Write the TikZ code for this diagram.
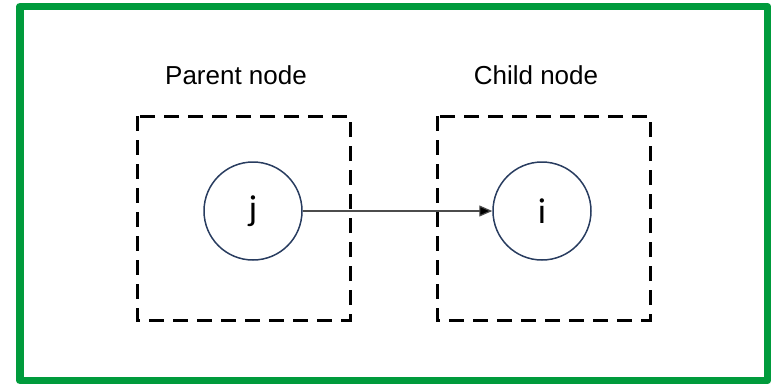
\documentclass[tikz,border=0pt]{standalone}
\usepackage{fontspec}
\setmainfont{Liberation Sans}
\newfontfamily\letterfont{Carlito}
\usetikzlibrary{arrows.meta}
\definecolor{framegreen}{RGB}{0,155,60}
\definecolor{circleblue}{RGB}{40,60,95}
\begin{document}
\begin{tikzpicture}[x=1pt,y=-1pt,
  groupbox/.style={draw=black,line width=3pt,dash pattern=on 15pt off 9pt},
  varnode/.style={circle,draw=circleblue,line width=1.5pt,minimum size=98pt,inner sep=0pt,font=\letterfont\fontsize{36}{40}\selectfont},
  caption/.style={font=\fontsize{26}{30}\selectfont},
  link/.style={draw=black!70,line width=1.2pt,-{Triangle[length=13pt,width=11pt,fill=black]}}]
  \useasboundingbox (0,0) rectangle (771,384);
  % outer frame
  \draw[framegreen,line width=7.5pt,line join=round] (20,6.5) rectangle (767.5,380.5);
  % dashed group boxes
  \draw[groupbox] (137,116) rectangle (350,320);
  \draw[groupbox] (437,116) rectangle (650,320);
  % captions
  \node[caption] (parentlbl) at (236,75) {Parent node};
  \node[caption] (childlbl) at (536,75) {Child node};
  % variables
  \node[varnode] (j) at (253,211) {j};
  \node[varnode] (i) at (542,211) {i};
  \draw[link] (j) -- (i);
\end{tikzpicture}
\end{document}
